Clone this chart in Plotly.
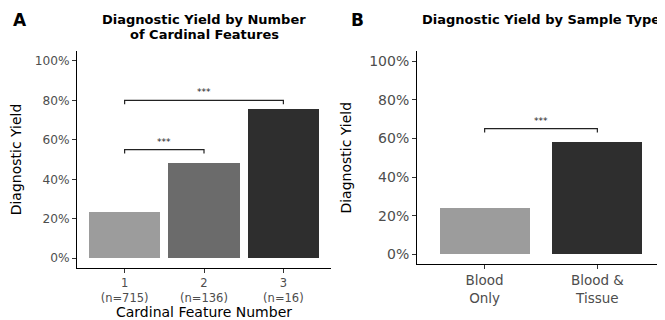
import plotly.graph_objects as go

# ---- data ----
cardinal_labels = ["1<br>(n=715)", "2<br>(n=136)", "3<br>(n=16)"]
cardinal_yield = [23.3, 48.1, 75.4]
cardinal_colors = ["#9c9c9c", "#6b6b6b", "#2e2e2e"]
cardinal_comparisons = [(1, 2, 55, "***"), (1, 3, 80, "***")]

sample_labels = ["Blood<br>Only", "Blood &<br>Tissue"]
sample_yield = [23.8, 58.0]
sample_colors = ["#9c9c9c", "#2e2e2e"]
sample_comparisons = [(1, 2, 65, "***")]

y_ticks = [0, 20, 40, 60, 80, 100]
y_ticktext = [f"{v}%" for v in y_ticks]

FONT = "DejaVu Sans"

# page body has an 8px margin: build the figure in window pixels shifted by it
OFF = 8
W, H = 665 - OFF, 320 - OFF


def pxx(x):
    return (x - OFF) / W


def pxy(y):
    return 1 - (y - OFF) / H


fig = go.Figure()

fig.add_trace(go.Bar(x=list(range(1, len(cardinal_yield) + 1)), y=cardinal_yield,
                     marker=dict(color=cardinal_colors, line=dict(width=0)),
                     width=0.9, xaxis="x", yaxis="y", showlegend=False))
fig.add_trace(go.Bar(x=list(range(1, len(sample_yield) + 1)), y=sample_yield,
                     marker=dict(color=sample_colors, line=dict(width=0)),
                     width=0.8, xaxis="x2", yaxis="y2", showlegend=False))

annotations = []
tip = 2
for comps, xa, ya in [(cardinal_comparisons, "x", "y"), (sample_comparisons, "x2", "y2")]:
    for a, b, h, lab in comps:
        fig.add_trace(go.Scatter(x=[a, a, b, b], y=[h - tip, h, h, h - tip], mode="lines",
                                 line=dict(color="#222222", width=1.2), xaxis=xa, yaxis=ya,
                                 showlegend=False, hoverinfo="skip"))
        annotations.append(dict(x=(a + b) / 2, y=h, xref=xa, yref=ya, text=lab, showarrow=False,
                                yanchor="bottom", yshift=1,
                                font=dict(family=FONT, size=9, color="#222222")))

title_font = dict(family=FONT, size=13, color="black")
annotations += [
    dict(x=pxx(204), y=pxy(19.5), xref="paper", yref="paper", xanchor="center", yanchor="middle",
         text="<b>Diagnostic Yield by Number</b>", showarrow=False, font=title_font),
    dict(x=pxx(204), y=pxy(34), xref="paper", yref="paper", xanchor="center", yanchor="middle",
         text="<b>of Cardinal Features</b>", showarrow=False, font=title_font),
    dict(x=pxx(541), y=pxy(20), xref="paper", yref="paper", xanchor="center", yanchor="middle",
         text="<b>Diagnostic Yield by Sample Type</b>", showarrow=False, font=title_font),
    dict(x=pxx(20), y=pxy(20), xref="paper", yref="paper", xanchor="center", yanchor="middle",
         text="<b>A</b>", showarrow=False, font=dict(family=FONT, size=17, color="black")),
    dict(x=pxx(357), y=pxy(20), xref="paper", yref="paper", xanchor="center", yanchor="middle",
         text="<b>B</b>", showarrow=False, font=dict(family=FONT, size=17, color="black")),
]


def axis(tick_size, **kw):
    d = dict(showline=True, linecolor="black", linewidth=1, ticks="outside", ticklen=4,
             tickcolor="#333333", showgrid=False, zeroline=False,
             tickfont=dict(family=FONT, size=tick_size, color="#4d4d4d"),
             title_font=dict(family=FONT, size=14, color="black"))
    d.update(kw)
    return d


fig.update_layout(
    width=W, height=H, margin=dict(l=0, r=0, t=0, b=0),
    plot_bgcolor="white", paper_bgcolor="white", showlegend=False,
    xaxis=axis(11.5, domain=[pxx(77), pxx(331)], range=[0.4, 3.6], tickvals=[1, 2, 3],
               ticktext=cardinal_labels, anchor="y",
               title=dict(text="Cardinal Feature Number", standoff=5)),
    yaxis=axis(12.2, domain=[pxy(268), pxy(51)], range=[-5, 105], tickvals=y_ticks,
               ticktext=y_ticktext, anchor="x",
               title=dict(text="Diagnostic Yield", standoff=14)),
    xaxis2=axis(13.5, domain=[pxx(417), 1.0], range=[0.4, 2.6], tickvals=[1, 2],
                ticktext=sample_labels, anchor="y2"),
    yaxis2=axis(14, domain=[pxy(264), pxy(51.4)], range=[-5, 105], tickvals=y_ticks,
                ticktext=y_ticktext, anchor="x2",
                title=dict(text="Diagnostic Yield", standoff=14)),
    annotations=annotations,
    bargap=0,
)

fig.write_html("out.html")
